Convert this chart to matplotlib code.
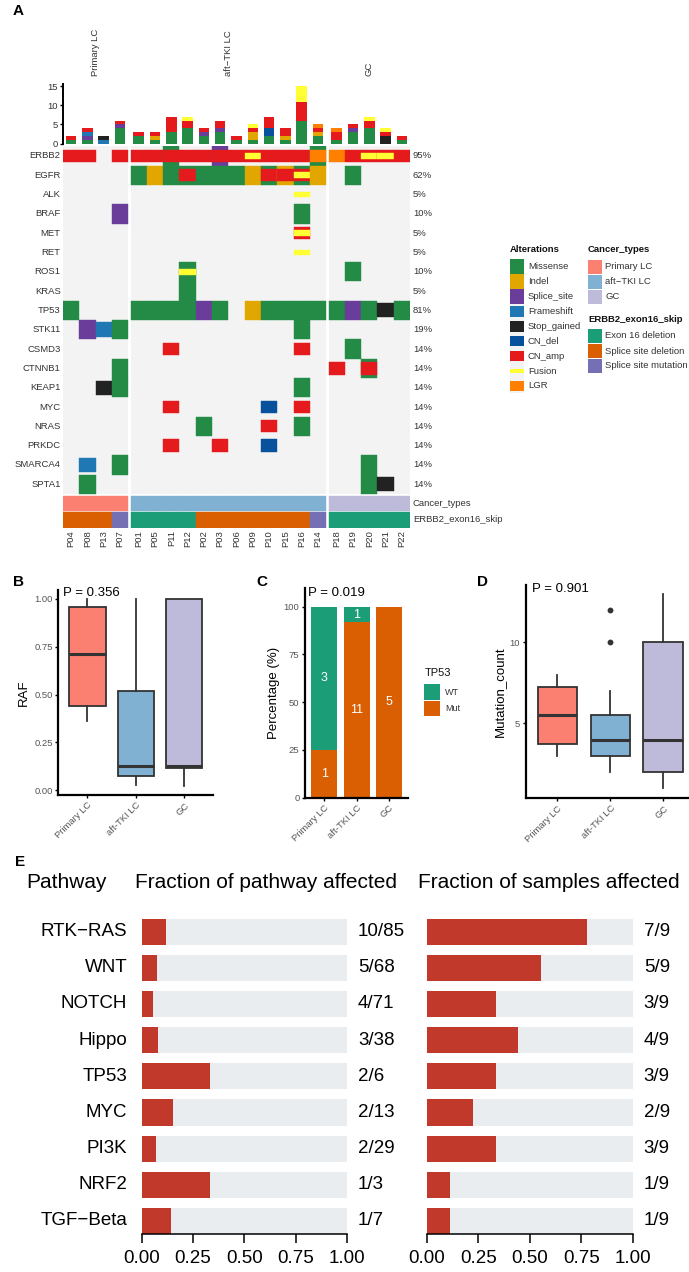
import matplotlib
matplotlib.use("Agg")
import matplotlib.pyplot as plt
from matplotlib.patches import Rectangle
from matplotlib.transforms import blended_transform_factory

plt.rcParams['font.family'] = ['Liberation Sans', 'DejaVu Sans']

# ---------------------------------------------------------------- data
samples = ["P04", "P08", "P13", "P07",
           "P01", "P05", "P11", "P12", "P02", "P03", "P06", "P09", "P10", "P15", "P16", "P14",
           "P18", "P19", "P20", "P21", "P22"]
sample_group = ["Primary LC", "Primary LC", "Primary LC", "Primary LC",
                "aft-TKI LC", "aft-TKI LC", "aft-TKI LC", "aft-TKI LC", "aft-TKI LC", "aft-TKI LC",
                "aft-TKI LC", "aft-TKI LC", "aft-TKI LC", "aft-TKI LC", "aft-TKI LC", "aft-TKI LC",
                "GC", "GC", "GC", "GC", "GC"]
exon16_skip = ["Splice site deletion", "Splice site deletion", "Splice site deletion", "Splice site mutation",
               "Exon 16 deletion", "Exon 16 deletion", "Exon 16 deletion", "Exon 16 deletion",
               "Splice site deletion", "Splice site deletion", "Splice site deletion", "Splice site deletion",
               "Splice site deletion", "Splice site deletion", "Splice site deletion", "Splice site mutation",
               "Exon 16 deletion", "Exon 16 deletion", "Exon 16 deletion", "Exon 16 deletion", "Exon 16 deletion"]

genes = ["ERBB2", "EGFR", "ALK", "BRAF", "MET", "RET", "ROS1", "KRAS", "TP53", "STK11",
         "CSMD3", "CTNNB1", "KEAP1", "MYC", "NRAS", "PRKDC", "SMARCA4", "SPTA1"]
# codes: M Missense, I Indel, S Splice_site, F Frameshift, X Stop_gained,
#        D CN_del, A CN_amp, U Fusion, L LGR
alt_ERBB2 = ["A", "A", "", "A", "A", "A", "MA", "A", "A", "SA", "A", "AU", "A", "A", "A", "ML", "L", "A", "AU", "AU", "A"]
alt_EGFR = ["", "", "", "", "M", "I", "M", "MA", "M", "M", "M", "I", "MA", "IA", "MAU", "I", "", "M", "", "", ""]
alt_ALK = ["", "", "", "", "", "", "", "", "", "", "", "", "", "", "U", "", "", "", "", "", ""]
alt_BRAF = ["", "", "", "S", "", "", "", "", "", "", "", "", "", "", "M", "", "", "", "", "", ""]
alt_MET = ["", "", "", "", "", "", "", "", "", "", "", "", "", "", "AU", "", "", "", "", "", ""]
alt_RET = ["", "", "", "", "", "", "", "", "", "", "", "", "", "", "U", "", "", "", "", "", ""]
alt_ROS1 = ["", "", "", "", "", "", "", "MU", "", "", "", "", "", "", "", "", "", "M", "", "", ""]
alt_KRAS = ["", "", "", "", "", "", "", "M", "", "", "", "", "", "", "", "", "", "", "", "", ""]
alt_TP53 = ["M", "", "", "", "M", "M", "M", "M", "S", "M", "", "I", "M", "M", "M", "M", "M", "S", "M", "X", "M"]
alt_STK11 = ["", "S", "F", "M", "", "", "", "", "", "", "", "", "", "", "M", "", "", "", "", "", ""]
alt_CSMD3 = ["", "", "", "", "", "", "A", "", "", "", "", "", "", "", "A", "", "", "M", "", "", ""]
alt_CTNNB1 = ["", "", "", "M", "", "", "", "", "", "", "", "", "", "", "", "", "A", "", "MA", "", ""]
alt_KEAP1 = ["", "", "X", "M", "", "", "", "", "", "", "", "", "", "", "M", "", "", "", "", "", ""]
alt_MYC = ["", "", "", "", "", "", "A", "", "", "", "", "", "D", "", "A", "", "", "", "", "", ""]
alt_NRAS = ["", "", "", "", "", "", "", "", "M", "", "", "", "A", "", "M", "", "", "", "", "", ""]
alt_PRKDC = ["", "", "", "", "", "", "A", "", "", "A", "", "", "D", "", "", "", "", "", "", "", ""]
alt_SMARCA4 = ["", "F", "", "M", "", "", "", "", "", "", "", "", "", "", "", "", "", "", "M", "", ""]
alt_SPTA1 = ["", "M", "", "", "", "", "", "", "", "", "", "", "", "", "", "", "", "", "M", "X", ""]

# top bar plot: number of alterations per sample and type
bar_missense = [1, 1, 0, 4, 2, 1, 3, 4, 2, 3, 1, 1, 2, 1, 6, 2, 1, 3, 4, 0, 1]
bar_indel = [0, 0, 0, 0, 0, 1, 0, 0, 0, 0, 0, 2, 0, 1, 0, 1, 0, 0, 0, 0, 0]
bar_splice = [0, 1, 0, 1, 0, 0, 0, 0, 1, 1, 0, 0, 0, 0, 0, 0, 0, 1, 0, 0, 0]
bar_frameshift = [0, 1, 1, 0, 0, 0, 0, 0, 0, 0, 0, 0, 0, 0, 0, 0, 0, 0, 0, 0, 0]
bar_stop = [0, 0, 1, 0, 0, 0, 0, 0, 0, 0, 0, 0, 0, 0, 0, 0, 0, 0, 0, 2, 0]
bar_cndel = [0, 0, 0, 0, 0, 0, 0, 0, 0, 0, 0, 0, 2, 0, 0, 0, 0, 0, 0, 0, 0]
bar_cnamp = [1, 1, 0, 1, 1, 1, 4, 2, 1, 2, 1, 1, 3, 2, 5, 1, 2, 1, 2, 1, 1]
bar_fusion = [0, 0, 0, 0, 0, 0, 0, 1, 0, 0, 0, 1, 0, 0, 4, 0, 0, 0, 1, 1, 0]
bar_lgr = [0, 0, 0, 0, 0, 0, 0, 0, 0, 0, 0, 0, 0, 0, 0, 1, 1, 0, 0, 0, 0]

# panel B (RAF) box statistics
box_groups = ["Primary LC", "aft-TKI LC", "GC"]
raf_whislo = [0.36, 0.028, 0.023]
raf_q1 = [0.44, 0.076, 0.117]
raf_med = [0.711, 0.129, 0.125]
raf_q3 = [0.96, 0.52, 1.0]
raf_whishi = [1.0, 1.0, 1.0]

# panel C (TP53 status counts)
tp53_wt = [3, 1, 0]
tp53_mut = [1, 11, 5]

# panel D (Mutation count) box statistics
mc_whislo = [3.0, 2.0, 1.0]
mc_q1 = [3.7, 3.0, 2.0]
mc_med = [5.5, 4.0, 4.0]
mc_q3 = [7.25, 5.5, 10.0]
mc_whishi = [8.0, 7.0, 13.0]
mc_outliers = [[], [10, 12], []]

# panel E
pathways = ["RTK\u2212RAS", "WNT", "NOTCH", "Hippo", "TP53", "MYC", "PI3K", "NRF2", "TGF\u2212Beta"]
path_genes_altered = [10, 5, 4, 3, 2, 2, 2, 1, 1]
path_genes_total = [85, 68, 71, 38, 6, 13, 29, 3, 7]
path_samples_altered = [7, 5, 3, 4, 3, 2, 3, 1, 1]
path_samples_total = [9, 9, 9, 9, 9, 9, 9, 9, 9]

# ---------------------------------------------------------------- styles
alt_names = {"M": "Missense", "I": "Indel", "S": "Splice_site", "F": "Frameshift",
             "X": "Stop_gained", "D": "CN_del", "A": "CN_amp", "U": "Fusion", "L": "LGR"}
alt_colors = {"M": "#238B45", "I": "#E2A600", "S": "#6A3D9A", "F": "#1F78B4",
              "X": "#222222", "D": "#08519C", "A": "#E41A1C", "U": "#FFFF33", "L": "#FF7F00"}
alt_height = {"M": 1.0, "I": 1.0, "S": 1.0, "F": 0.76, "X": 0.72,
              "D": 0.64, "A": 0.64, "L": 0.64, "U": 0.3}
draw_order = ["M", "I", "S", "F", "X", "D", "A", "L", "U"]
legend_order = ["M", "I", "S", "F", "X", "D", "A", "U", "L"]
group_colors = {"Primary LC": "#FB8072", "aft-TKI LC": "#80B1D3", "GC": "#BEBADA"}
skip_colors = {"Exon 16 deletion": "#1B9E77", "Splice site deletion": "#D95F02",
               "Splice site mutation": "#7570B3"}
BG = "#F3F3F3"
TXT = "#333333"
FS = 6.8

W, H = 689, 1272
fig = plt.figure(figsize=(W / 100, H / 100), dpi=100)


def add_ax(l, t, r, b):
    return fig.add_axes([l / W, 1 - b / H, (r - l) / W, (b - t) / H])


over = fig.add_axes([0, 0, 1, 1], zorder=10)
over.set_xlim(0, W)
over.set_ylim(H, 0)
over.axis("off")

# ---------------------------------------------------------------- panel A
alt_rows = [alt_ERBB2, alt_EGFR, alt_ALK, alt_BRAF, alt_MET, alt_RET, alt_ROS1, alt_KRAS,
            alt_TP53, alt_STK11, alt_CSMD3, alt_CTNNB1, alt_KEAP1, alt_MYC, alt_NRAS,
            alt_PRKDC, alt_SMARCA4, alt_SPTA1]
n = len(samples)
grp_idx = [box_groups.index(g) for g in sample_group]
gap = 0.145
xs = [i + grp_idx[i] * gap for i in range(n)]
xmax = n + 2 * gap

ax = add_ax(63, 146.3, 410, 527.7)
ax.set_xlim(0, xmax)
ax.set_ylim(19.75, 0)
ax.axis("off")
for g in range(3):
    idx = [i for i in range(n) if grp_idx[i] == g]
    ax.add_patch(Rectangle((xs[idx[0]], 0), len(idx), len(genes), fc=BG, ec="none", lw=0))
for r, row in enumerate(alt_rows):
    for i, code in enumerate(row):
        for c in draw_order:
            if c in code:
                h = alt_height[c]
                ax.add_patch(Rectangle((xs[i], r + 0.5 - h / 2), 1, h, fc=alt_colors[c],
                                       ec=alt_colors[c], lw=0.3))
    pct = round(100 * sum(1 for v in row if v) / n)
    ax.text(-0.14, r + 0.5, genes[r], ha="right", va="center", fontsize=FS, color=TXT, clip_on=False)
    ax.text(xmax + 0.18, r + 0.5, f"{pct}%", ha="left", va="center", fontsize=FS, color=TXT, clip_on=False)

ann_y = [(18.09, 18.88), (18.95, 19.74)]
for i in range(n):
    c1 = group_colors[sample_group[i]]
    c2 = skip_colors[exon16_skip[i]]
    ax.add_patch(Rectangle((xs[i], ann_y[0][0]), 1, ann_y[0][1] - ann_y[0][0], fc=c1, ec=c1, lw=0.3))
    ax.add_patch(Rectangle((xs[i], ann_y[1][0]), 1, ann_y[1][1] - ann_y[1][0], fc=c2, ec=c2, lw=0.3))
    ax.text(xs[i] + 0.5, 19.88, samples[i], rotation=90, ha="center", va="top",
            fontsize=FS, color=TXT, clip_on=False)
ax.text(xmax + 0.18, sum(ann_y[0]) / 2, "Cancer_types", ha="left", va="center", fontsize=FS, color=TXT)
ax.text(xmax + 0.18, sum(ann_y[1]) / 2, "ERBB2_exon16_skip", ha="left", va="center", fontsize=FS, color=TXT)

# top barplot
axb = add_ax(63, 81.7, 410, 143.5)
axb.set_xlim(0, xmax)
axb.set_ylim(0, 16.2)
bar_series = [("M", bar_missense), ("I", bar_indel), ("S", bar_splice), ("F", bar_frameshift),
              ("X", bar_stop), ("D", bar_cndel), ("A", bar_cnamp), ("U", bar_fusion), ("L", bar_lgr)]
bottom = [0] * n
centers = [x + 0.5 for x in xs]
for c, vals in bar_series:
    axb.bar(centers, vals, width=0.65, bottom=bottom, color=alt_colors[c], lw=0)
    bottom = [b + v for b, v in zip(bottom, vals)]
for s in ["top", "right", "bottom"]:
    axb.spines[s].set_visible(False)
axb.spines["left"].set_linewidth(1.4)
axb.spines["left"].set_bounds(0, 15.5)
axb.set_xticks([])
axb.set_yticks([0, 5, 10, 15])
axb.tick_params(axis="y", labelsize=FS, length=2.5, width=1, pad=1, labelcolor=TXT)
axb.patch.set_alpha(0)

tr = blended_transform_factory(axb.transData, fig.transFigure)
for g, name in enumerate(["Primary LC", "aft\u2212TKI LC", "GC"]):
    idx = [i for i in range(n) if grp_idx[i] == g]
    cx = (xs[idx[0]] + xs[idx[-1]] + 1) / 2
    axb.text(cx, 1 - 76 / H, name, transform=tr, rotation=90, ha="center", va="bottom",
             fontsize=FS, color=TXT)

# legends of panel A
over.text(510, 249, "Alterations", fontsize=FS, fontweight="bold", va="center", ha="left", color="#111111")
for k, c in enumerate(legend_order):
    yc = 266.7 + k * 14.9
    over.add_patch(Rectangle((510, yc - 7.45), 14.3, 14.9, fc=BG, ec="none"))
    h = alt_height[c] * 14.9
    over.add_patch(Rectangle((510, yc - h / 2), 14.3, h, fc=alt_colors[c], ec="none"))
    over.text(528, yc, alt_names[c], fontsize=FS, va="center", ha="left", color=TXT)

over.text(588, 249, "Cancer_types", fontsize=FS, fontweight="bold", va="center", ha="left", color="#111111")
for k, g in enumerate(box_groups):
    yc = 266.7 + k * 15
    over.add_patch(Rectangle((588, yc - 6.8), 13.6, 13.6, fc=group_colors[g], ec="none"))
    over.text(605, yc, g.replace("-", "\u2212"), fontsize=FS, va="center", ha="left", color=TXT)
over.text(588, 320, "ERBB2_exon16_skip", fontsize=FS, fontweight="bold", va="center", ha="left", color="#111111")
for k, g in enumerate(["Exon 16 deletion", "Splice site deletion", "Splice site mutation"]):
    yc = 336 + k * 15
    over.add_patch(Rectangle((588, yc - 6.8), 13.6, 13.6, fc=skip_colors[g], ec="none"))
    over.text(605, yc, g, fontsize=FS, va="center", ha="left", color=TXT)

# ---------------------------------------------------------------- B/C/D helpers
def style_ax(a, ylabel):
    for s in ["top", "right"]:
        a.spines[s].set_visible(False)
    for s in ["left", "bottom"]:
        a.spines[s].set_linewidth(1.6)
    a.tick_params(axis="both", labelsize=FS, length=2.5, width=1, pad=1.5, labelcolor="#555555")
    a.set_xticks([1, 2, 3])
    a.set_xticklabels(box_groups, rotation=45, ha="right", rotation_mode="anchor")
    a.set_xlim(0.4, 3.6)
    a.set_ylabel(ylabel, fontsize=9.5, labelpad=3)
    a.patch.set_alpha(0)


def draw_box(a, lo, q1, med, q3, hi, fl):
    stats = []
    for i in range(3):
        stats.append({"whislo": lo[i], "q1": q1[i], "med": med[i], "q3": q3[i],
                      "whishi": hi[i], "fliers": fl[i]})
    bp = a.bxp(stats, positions=[1, 2, 3], widths=0.75, patch_artist=True, showcaps=False,
               boxprops=dict(lw=1.3, ec="#333333"),
               whiskerprops=dict(lw=1.3, color="#333333"),
               medianprops=dict(lw=2.2, color="#333333", solid_capstyle="butt"),
               flierprops=dict(marker="o", markersize=3.2, mfc="#333333", mec="#333333"))
    for patch, g in zip(bp["boxes"], box_groups):
        patch.set_facecolor(group_colors[g])


# panel B
axB = add_ax(58.3, 590, 213.3, 795)
draw_box(axB, raf_whislo, raf_q1, raf_med, raf_q3, raf_whishi, [[], [], []])
axB.set_ylim(-0.025, 1.047)
axB.set_yticks([0, 0.25, 0.5, 0.75, 1.0])
axB.set_yticklabels(["0.00", "0.25", "0.50", "0.75", "1.00"])
style_ax(axB, "RAF")
axB.text(0.49, 1.03, "P = 0.356", fontsize=9.5, ha="left", va="center")

# panel C
axC = add_ax(305, 588, 408.3, 797.7)
tot = [w + m for w, m in zip(tp53_wt, tp53_mut)]
mut_pct = [100 * m / t for m, t in zip(tp53_mut, tot)]
wt_pct = [100 * w / t for w, t in zip(tp53_wt, tot)]
axC.bar([1, 2, 3], mut_pct, width=0.8, color="#D95F02", lw=0)
axC.bar([1, 2, 3], wt_pct, width=0.8, bottom=mut_pct, color="#1B9E77", lw=0)
for i in range(3):
    if tp53_mut[i]:
        axC.text(i + 1, mut_pct[i] / 2, str(tp53_mut[i]), color="white", ha="center", va="center", fontsize=9)
    if tp53_wt[i]:
        axC.text(i + 1, mut_pct[i] + wt_pct[i] / 2, str(tp53_wt[i]), color="white", ha="center",
                 va="center", fontsize=9)
axC.set_ylim(0, 109.7)
axC.set_yticks([0, 25, 50, 75, 100])
style_ax(axC, "Percentage (%)")
axC.text(0.5, 107, "P = 0.019", fontsize=9.5, ha="left", va="center")
over.text(425, 673, "TP53", fontsize=8, ha="left", va="center", color="#111111")
over.add_patch(Rectangle((424.3, 684.3), 15.7, 15.7, fc="#1B9E77", ec="none"))
over.add_patch(Rectangle((424.3, 700.5), 15.7, 15.7, fc="#D95F02", ec="none"))
over.text(445, 692.2, "WT", fontsize=6.5, ha="left", va="center", color=TXT)
over.text(445, 708.3, "Mut", fontsize=6.5, ha="left", va="center", color=TXT)

# panel D
axD = add_ax(525.7, 585, 695, 798.3)
draw_box(axD, mc_whislo, mc_q1, mc_med, mc_q3, mc_whishi, mc_outliers)
axD.set_ylim(0.37, 13.55)
axD.set_yticks([5, 10])
style_ax(axD, "Mutation_count")
axD.text(0.51, 13.3, "P = 0.901", fontsize=9.5, ha="left", va="center")

# panel labels
for lab, x, y in [("A", 18, 11), ("B", 18, 582), ("C", 262, 582), ("D", 483, 582), ("E", 20, 862)]:
    over.text(x, y, lab, fontsize=11, fontweight="bold", ha="center", va="center")

# ---------------------------------------------------------------- panel E
RED = "#C0392B"
GREY = "#EAEDF0"
EFS = 13.5


def pathway_ax(l, r, num, den, labels_left):
    a = add_ax(l, 904.9, r, 1234)
    a.set_xlim(0, 1)
    a.set_ylim(8.36, -0.74)
    ypos = list(range(len(pathways)))
    frac = [u / v for u, v in zip(num, den)]
    a.barh(ypos, [1] * len(ypos), height=0.72, color=GREY, lw=0)
    a.barh(ypos, frac, height=0.72, color=RED, lw=0)
    for k in ypos:
        a.text(1.054, k, f"{num[k]}/{den[k]}", ha="left", va="center", fontsize=EFS)
        if labels_left:
            a.text(-0.069, k, pathways[k], ha="right", va="center", fontsize=EFS)
    for s in ["top", "right", "left"]:
        a.spines[s].set_visible(False)
    a.spines["bottom"].set_linewidth(1.1)
    a.set_yticks([])
    a.set_xticks([0, 0.25, 0.5, 0.75, 1.0])
    a.set_xticklabels(["0.00", "0.25", "0.50", "0.75", "1.00"])
    a.tick_params(axis="x", labelsize=EFS, length=6.5, width=1.1, pad=5, labelcolor="black")
    a.patch.set_alpha(0)
    return a


pathway_ax(141.5, 347, path_genes_altered, path_genes_total, True)
pathway_ax(427, 632.7, path_samples_altered, path_samples_total, False)
over.text(26, 883, "Pathway", fontsize=15, ha="left", va="center")
over.text(266, 883, "Fraction of pathway affected", fontsize=15, ha="center", va="center")
over.text(549, 883, "Fraction of samples affected", fontsize=15, ha="center", va="center")

fig.savefig("out.png", dpi=100)
